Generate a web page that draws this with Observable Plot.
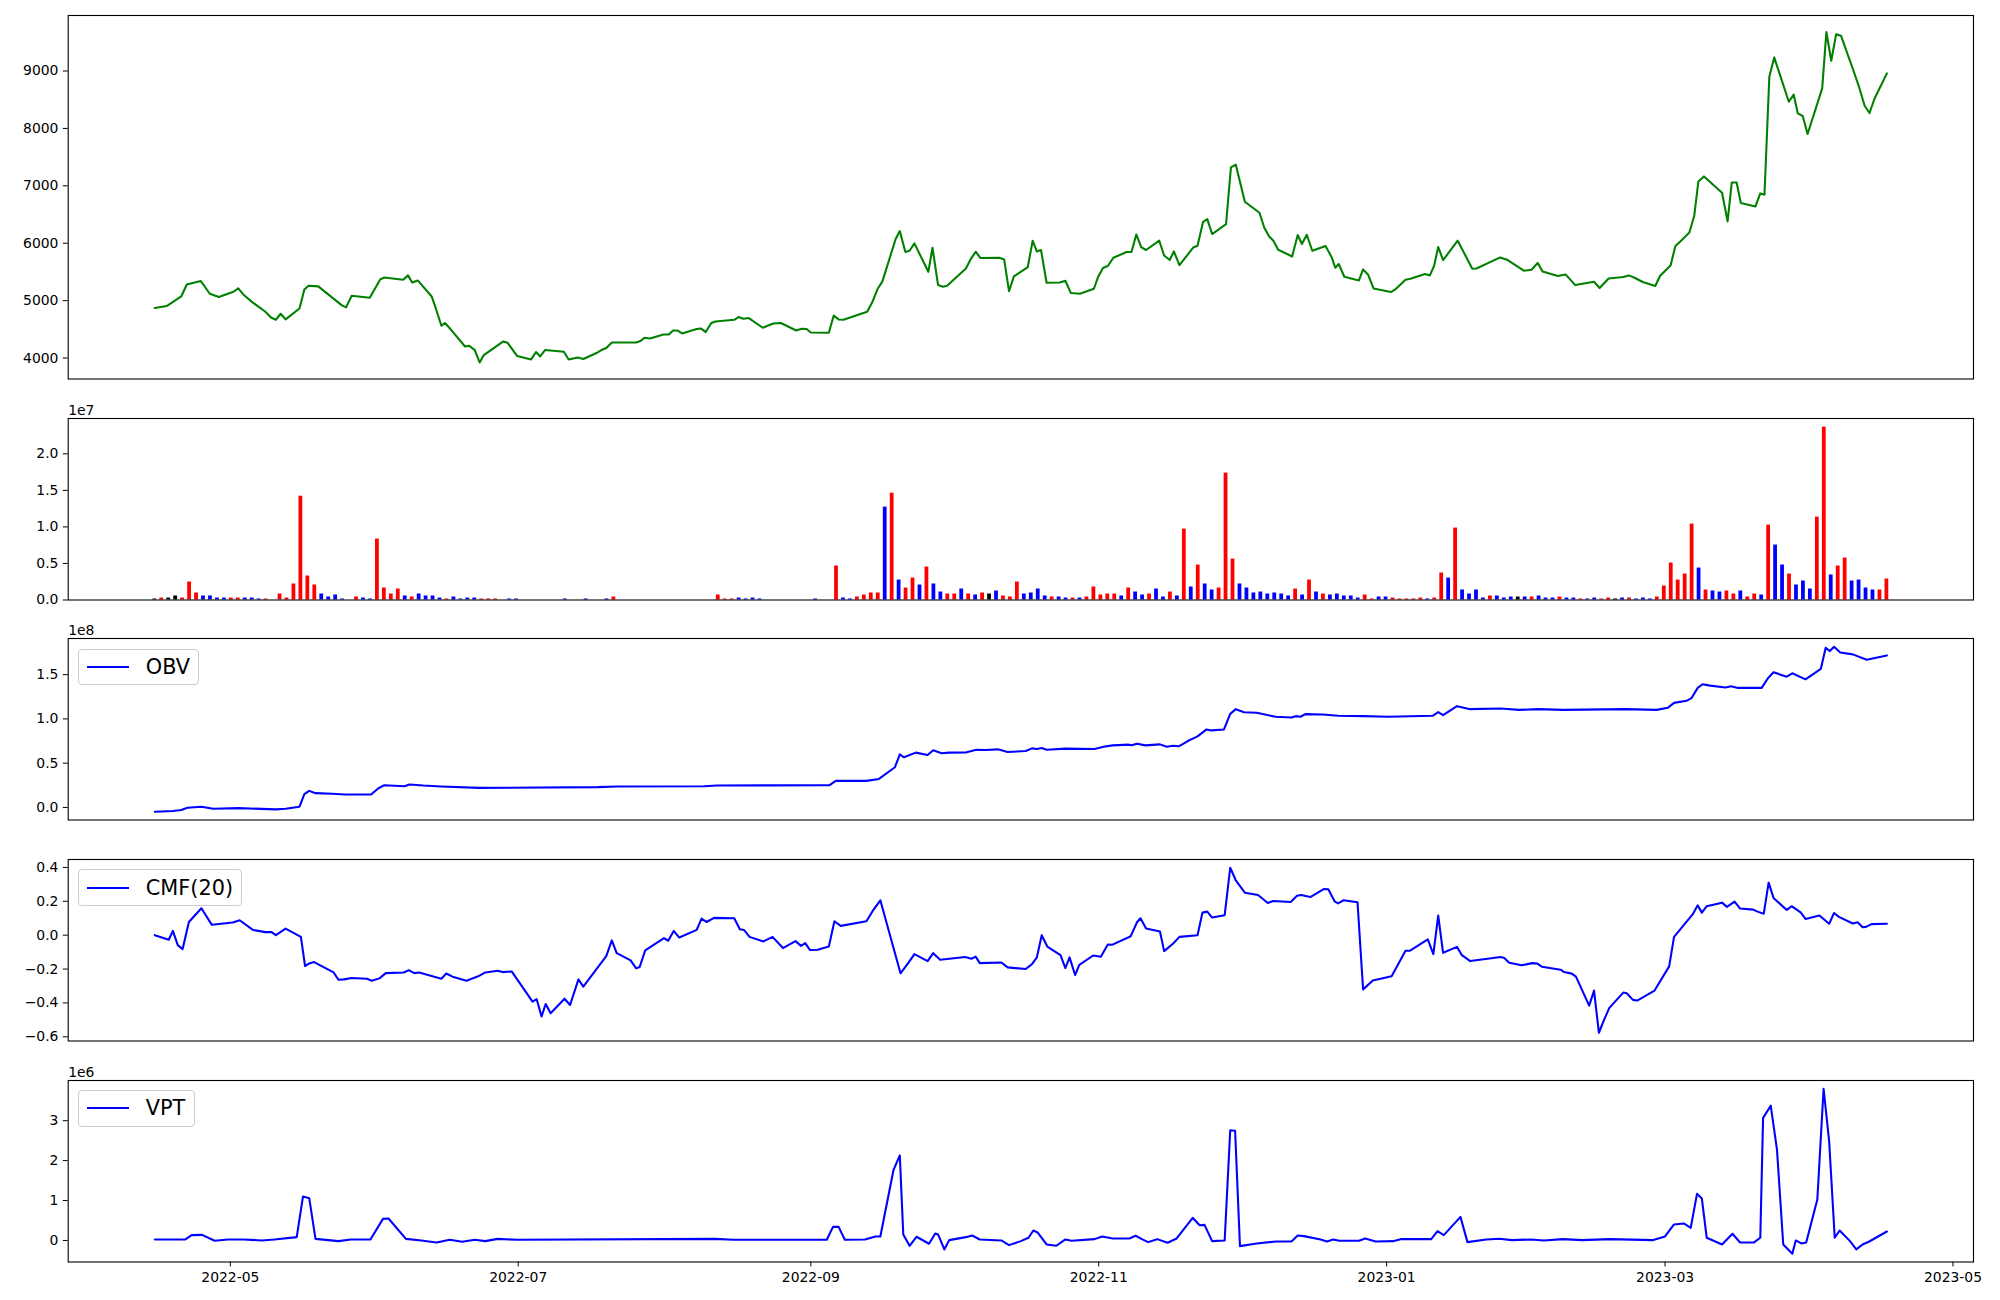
<!DOCTYPE html>
<html><head><meta charset="utf-8">
<script src="https://cdn.jsdelivr.net/npm/d3@7"></script>
<script src="https://cdn.jsdelivr.net/npm/@observablehq/plot@0.6"></script>
<style>
body{margin:0;background:#fff}
#chart{position:relative;width:2000px;height:1300px;background:#fff;font-family:"DejaVu Sans",sans-serif;overflow:hidden}
.legend{position:absolute;box-sizing:border-box;height:36.5px;border:1.3px solid #cccccc;border-radius:4px;background:rgba(255,255,255,0.8);display:flex;align-items:center;padding:0 8.3px;font-size:20.83px;color:#000;white-space:nowrap}
.legend .h{display:inline-block;width:41.7px;height:0;border-top:2.08px solid #0000ff;margin-right:16.7px}
</style>
</head><body><div id="chart"></div>
<script>
// ---- sample calendar (250 evenly spaced samples) ----
const START_DATE = "2022-04-15";
const END_DATE = "2023-04-17";
const N_SAMPLES = 250;

// ---- x tick labels ----
const xTickLabels = ["2022-05","2022-07","2022-09","2022-11","2023-01","2023-03","2023-05"];

// ---- price (position in sample steps, value) ----
const priceT = [0,1.7,3.8,4.6,6.6,7.1,7.9,9.2,11.3,12.0,12.8,14.0,15.9,16.7,17.4,18.1,18.8,20.8,21.5,22.1,23.5,26.9,27.5,28.3,30.9,32.4,33.0,35.7,36.4,37.0,37.8,39.8,40.4,41.2,41.7,42.5,44.6,45.2,46.0,46.7,47.3,50.1,50.7,52.1,54.1,54.8,55.4,56.1,58.8,59.5,60.8,61.6,63.5,64.3,64.9,65.7,69.2,69.8,70.4,71.2,73.1,73.9,74.5,75.1,75.8,77.9,78.5,79.2,80.0,80.6,83.3,83.9,84.6,85.4,87.4,88.9,90.0,92.2,93.0,93.7,94.3,96.9,97.6,98.3,99.0,102.4,103.1,103.9,104.6,106.5,107.1,107.9,108.5,109.2,111.2,111.8,112.6,113.3,113.9,116.6,117.3,118.0,118.7,121.4,122.1,122.8,123.5,125.5,126.2,126.8,127.4,128.2,130.1,130.9,131.7,133.0,135.0,135.6,136.3,137.0,137.8,139.7,140.4,141.1,141.8,142.5,144.4,145.1,145.9,146.5,147.3,149.3,149.9,150.7,151.3,152.0,154.0,154.7,155.4,156.7,158.8,159.5,160.2,160.8,161.5,163.5,164.3,164.9,165.6,166.4,168.3,169.2,169.7,170.2,171.0,173.1,173.7,174.4,175.2,177.7,178.4,179.8,180.5,182.6,183.3,183.9,184.5,185.2,187.3,189.4,190.0,193.4,194.5,196.8,197.9,198.8,199.5,201.7,202.8,204.2,206.9,207.7,209.0,211.1,211.9,212.8,213.9,215.7,216.4,217.9,218.6,219.3,220.6,221.3,221.9,222.7,225.3,226.1,226.7,227.4,228.0,230.1,230.8,231.4,232.1,232.8,234.9,235.6,236.2,236.9,237.6,239.7,240.3,241.0,241.7,242.4,244.3,245.0,245.8,246.5,247.2,249];
const priceV = [4871,4906,5073,5282,5341,5260,5120,5063,5155,5213,5097,4975,4806,4707,4667,4772,4673,4864,5195,5260,5248,4917,4882,5085,5050,5370,5404,5364,5440,5317,5352,5073,4864,4563,4610,4505,4202,4214,4139,3923,4052,4289,4267,4035,3976,4105,4028,4139,4110,3976,4010,3983,4087,4145,4174,4272,4272,4296,4354,4342,4411,4411,4481,4481,4429,4505,4516,4453,4610,4638,4667,4714,4685,4697,4528,4603,4610,4481,4510,4505,4446,4440,4742,4673,4667,4807,4963,5202,5335,6073,6212,5847,5869,5997,5503,5921,5271,5242,5260,5561,5724,5852,5742,5747,5718,5167,5422,5585,6044,5857,5882,5312,5317,5347,5132,5120,5207,5411,5568,5603,5747,5847,5847,6153,5934,5882,6044,5787,5707,5857,5620,5927,5956,6374,6421,6160,6334,7321,7368,6723,6531,6270,6118,6044,5887,5770,6143,5986,6148,5869,5951,5753,5573,5638,5416,5352,5544,5457,5213,5150,5202,5364,5382,5463,5440,5603,5934,5707,6044,5556,5561,5753,5707,5521,5538,5655,5509,5429,5457,5271,5329,5220,5387,5411,5440,5394,5324,5254,5434,5614,5951,6031,6188,6474,7077,7164,6880,6380,7059,7059,6700,6641,6868,6845,8901,9237,8465,8587,8261,8216,7902,8697,9679,9179,9638,9615,8970,8721,8395,8268,8512,8958];

// ---- volume per sample (x 1e7) and bar colour code (r up, b down, k flat) ----
const volume = [
0.014,0.027,0.027,0.055,0.027,0.246,0.096,0.055,0.055,0.027,
0.027,0.027,0.027,0.027,0.027,0.014,0.014,0,0.082,0.027,
0.219,1.42,0.328,0.205,0.082,0.041,0.068,0.014,0,0.041,
0.027,0.014,0.834,0.164,0.082,0.150,0.055,0.041,0.082,0.055,
0.055,0.027,0.014,0.041,0.014,0.027,0.027,0.014,0.014,0.014,
0,0.014,0.014,0,0,0,0,0,0,0.014,
0,0,0.014,0,0,0.014,0.041,0,0,0,
0,0,0,0,0,0,0,0,0,0,
0,0.068,0.014,0.014,0.027,0.014,0.027,0.014,0,0,
0,0,0,0,0,0.014,0,0,0.465,0.027,
0.014,0.041,0.068,0.096,0.096,1.271,1.462,0.273,0.164,0.300,
0.205,0.451,0.219,0.109,0.082,0.082,0.150,0.082,0.068,0.096,
0.082,0.123,0.055,0.041,0.246,0.082,0.096,0.150,0.055,0.041,
0.041,0.027,0.027,0.027,0.041,0.178,0.068,0.082,0.082,0.055,
0.164,0.109,0.068,0.082,0.150,0.041,0.109,0.055,0.970,0.178,
0.478,0.219,0.137,0.164,1.736,0.560,0.219,0.164,0.096,0.109,
0.082,0.096,0.082,0.055,0.150,0.068,0.273,0.109,0.082,0.068,
0.082,0.055,0.055,0.027,0.068,0.014,0.041,0.041,0.027,0.014,
0.014,0.014,0.027,0.014,0.027,0.369,0.300,0.984,0.137,0.082,
0.137,0.027,0.055,0.055,0.027,0.041,0.041,0.041,0.041,0.055,
0.027,0.027,0.041,0.027,0.027,0.014,0.014,0.027,0.014,0.027,
0.014,0.027,0.027,0.014,0.027,0.014,0.041,0.191,0.506,0.273,
0.355,1.039,0.437,0.137,0.123,0.109,0.123,0.082,0.123,0.041,
0.082,0.068,1.025,0.752,0.478,0.355,0.205,0.260,0.150,1.134,
2.365,0.342,0.465,0.574,0.260,0.273,0.164,0.137,0.137,0.287];
const volColor = ("krkkrrrbbb"+"brrbbbrbrr"+"rrrrbbbbrr"+"bbrrrrbrbb"+"bbrbbbbrrr"+
  "bbbbbbbbbb"+"bbbbbbrbbb"+"bbbbbbbbbb"+"brrrbbbbbb"+"bbbbbbbbrb"+
  "brrrrbrbrr"+"brbbrrbrbr"+"kbrrrbbbbr"+"bbrbrrrrrb"+"rbbrbbrbrb"+
  "rbbrrrbbbb"+"bbbbrbrbrb"+"bbbbrrbbrr"+"rrrbrrbrbb"+"bbrbbbkbrb"+
  "bbrbbrbbrr"+"kbrbbbrrrr"+"rrbrbbrrbr"+"rbrbbrbbbr"+"rbrrbbbbrr").split("");

// ---- OBV (x 1e8) ----
const obvT = [0,2.6,3.8,4.7,6.7,8.4,12.0,17.4,18.8,20.8,21.5,22.2,23.1,25.5,27.3,31.1,32.1,33.0,35.9,36.6,38.6,41.2,46.6,63.7,66.4,79.0,80.8,97.0,97.9,102.3,104.1,106.4,107.1,107.7,109.4,111.1,111.9,113.1,114.2,116.7,118.1,119.4,121.2,122.6,125.2,126.1,126.8,127.5,128.2,130.9,135.1,136.4,137.7,140.0,140.4,141.2,142.4,144.5,145.5,146.4,147.2,148.5,149.9,151.2,151.9,153.7,154.6,155.4,156.6,158.4,161.1,163.4,164.0,164.7,165.4,167.9,170.1,173.7,177.3,183.7,184.5,185.2,187.2,189.1,193.5,196.1,198.8,202.5,211.4,215.9,217.5,218.4,220.2,220.9,221.8,222.5,223.6,225.8,226.6,227.6,231.0,231.9,232.7,234.6,235.4,237.3,239.5,240.2,240.8,241.4,242.3,244.1,246.1,249];
const obvV = [-0.049,-0.041,-0.03,-0.004,0.008,-0.015,-0.008,-0.022,-0.015,0.008,0.15,0.187,0.161,0.154,0.146,0.146,0.214,0.251,0.24,0.259,0.247,0.236,0.221,0.229,0.236,0.24,0.247,0.251,0.30,0.30,0.322,0.454,0.60,0.566,0.619,0.592,0.645,0.611,0.619,0.622,0.652,0.649,0.656,0.626,0.637,0.667,0.66,0.671,0.652,0.664,0.66,0.686,0.701,0.709,0.701,0.72,0.701,0.712,0.686,0.697,0.69,0.75,0.802,0.881,0.87,0.881,1.057,1.11,1.076,1.069,1.024,1.016,1.031,1.024,1.054,1.05,1.035,1.031,1.024,1.035,1.076,1.042,1.144,1.11,1.117,1.102,1.11,1.102,1.11,1.102,1.125,1.181,1.204,1.234,1.35,1.391,1.376,1.354,1.369,1.35,1.35,1.459,1.526,1.477,1.515,1.447,1.564,1.804,1.766,1.815,1.751,1.729,1.669,1.717];

// ---- CMF(20) ----
const cmfT = [0,2.0,2.6,3.3,4.0,4.9,6.7,8.2,11.2,12.2,14.1,15.9,16.8,17.4,18.8,21.0,21.6,22.2,22.9,25.7,26.4,27.2,28.3,30.5,31.2,32.3,33.2,35.8,36.5,37.3,38.0,41.2,41.9,42.8,44.8,46.5,47.5,49.3,50.0,51.3,54.3,54.9,55.6,56.2,56.9,58.9,59.7,60.9,61.6,64.9,65.7,66.4,68.4,69.2,69.7,70.5,73.2,73.8,74.6,75.4,77.9,78.6,79.3,80.4,83.3,84.1,84.7,85.5,87.5,88.8,90.3,92.1,92.9,93.5,94.2,95.3,96.9,97.7,98.6,102.3,103.2,104.3,107.2,108.3,109.2,111.1,111.9,112.9,116.5,117.4,118.0,118.6,121.7,122.6,125.2,126.1,126.8,127.5,128.3,130.2,130.9,131.5,132.3,132.9,134.9,136.0,137.0,137.6,140.3,141.2,141.7,142.5,144.5,145.1,146.4,147.3,149.9,150.6,151.3,152.0,153.8,154.6,155.4,156.7,158.6,160.0,160.8,163.3,164.2,164.8,166.1,168.1,168.7,169.6,170.1,170.9,172.9,173.7,175.1,177.8,179.8,180.4,183.0,183.8,184.5,185.2,187.2,187.9,189.1,193.5,194.0,194.7,196.5,198.0,198.7,199.4,202.1,202.6,203.7,204.3,206.2,206.9,207.6,208.4,209.1,211.1,211.6,212.5,213.1,215.6,217.7,218.4,221.1,221.8,222.4,223.1,225.3,226.0,227.1,227.9,229.8,230.4,231.3,232.0,232.7,234.6,235.3,236.6,237.3,239.3,240.7,241.4,242.1,244.1,244.8,245.5,246.0,246.8,249];
const cmfV = [0.0,-0.027,0.025,-0.059,-0.082,0.078,0.159,0.061,0.075,0.088,0.031,0.018,0.018,0,0.039,-0.010,-0.182,-0.167,-0.159,-0.220,-0.263,-0.261,-0.253,-0.257,-0.269,-0.255,-0.224,-0.220,-0.206,-0.224,-0.220,-0.257,-0.226,-0.245,-0.269,-0.243,-0.220,-0.210,-0.218,-0.214,-0.392,-0.378,-0.480,-0.406,-0.461,-0.375,-0.412,-0.261,-0.304,-0.124,-0.031,-0.106,-0.149,-0.196,-0.188,-0.090,-0.018,-0.033,0.025,-0.014,0.031,0.098,0.078,0.102,0.100,0.035,0.031,-0.010,-0.037,-0.010,-0.076,-0.035,-0.063,-0.047,-0.088,-0.086,-0.067,0.082,0.055,0.082,0.143,0.206,-0.225,-0.165,-0.112,-0.153,-0.106,-0.145,-0.129,-0.139,-0.127,-0.165,-0.161,-0.190,-0.200,-0.171,-0.131,0.0,-0.067,-0.118,-0.194,-0.131,-0.235,-0.175,-0.120,-0.127,-0.055,-0.057,-0.006,0.076,0.100,0.039,0.022,-0.094,-0.049,-0.010,0.0,0.133,0.139,0.104,0.118,0.398,0.324,0.251,0.237,0.190,0.202,0.196,0.233,0.237,0.225,0.273,0.271,0.200,0.188,0.206,0.194,-0.320,-0.267,-0.243,-0.092,-0.092,-0.025,-0.112,0.116,-0.104,-0.069,-0.118,-0.153,-0.129,-0.135,-0.163,-0.178,-0.165,-0.167,-0.186,-0.204,-0.218,-0.227,-0.245,-0.416,-0.327,-0.576,-0.494,-0.429,-0.339,-0.343,-0.382,-0.386,-0.327,-0.184,-0.010,0.124,0.176,0.133,0.171,0.192,0.167,0.198,0.157,0.151,0.139,0.127,0.310,0.220,0.149,0.171,0.135,0.096,0.116,0.067,0.131,0.108,0.069,0.076,0.047,0.049,0.065,0.067];

// ---- VPT (x 1e6) ----
const vptT = [0,4.4,5.3,6.8,8.6,10.5,12.7,15.4,17.2,20.4,21.3,22.2,23.1,26.4,28.2,31.0,32.8,33.6,36.1,38.3,40.5,42.4,44.2,46.0,47.5,49.3,52.1,80.5,83.2,96.6,97.5,98.3,99.2,102.1,103.6,104.3,106.2,107.1,107.6,108.5,109.5,111.3,112.2,112.6,113.5,114.2,116.6,117.5,118.6,121.7,122.8,124.5,125.6,126.3,126.9,128.2,129.6,130.9,131.8,135.1,136.2,137.7,140.1,141.0,141.9,142.8,144.1,145.6,146.9,149.2,150.2,150.9,152.0,153.8,154.6,155.3,156.0,158.4,161.2,163.4,164.3,165.2,167.6,168.5,169.4,170.3,173.1,174.0,175.5,178.0,179.1,183.5,184.4,185.3,187.7,188.7,191.4,193.3,195.1,197.8,199.7,202.4,205.2,209.2,215.3,217.1,218.4,219.8,220.8,221.7,222.4,223.1,225.3,226.8,227.9,229.9,230.8,231.2,232.3,233.2,234.1,235.4,235.9,236.7,237.4,239.0,239.9,240.7,241.5,242.2,243.7,244.6,245.5,246.4,249];
const vptV = [0.025,0.025,0.133,0.14,-0.008,0.025,0.025,0,0.025,0.083,1.10,1.06,0.04,-0.017,0.025,0.025,0.54,0.55,0.04,0,-0.05,0.017,-0.033,0.017,-0.017,0.04,0.017,0.04,0.017,0.017,0.34,0.34,0.017,0.025,0.1,0.1,1.77,2.13,0.15,-0.133,0.092,-0.083,0.175,0.15,-0.225,0.008,0.083,0.125,0.025,0,-0.117,-0.017,0.067,0.25,0.2,-0.1,-0.133,0.025,-0.008,0.033,0.1,0.05,0.05,0.117,0.033,-0.042,0.033,-0.058,0.05,0.567,0.383,0.39,-0.017,0,2.76,2.75,-0.142,-0.075,-0.025,-0.025,0.125,0.108,0.025,-0.025,0.025,-0.008,-0.008,0.05,-0.025,-0.017,0.033,0.033,0.233,0.133,0.59,-0.042,0.025,0.042,0.008,0.025,0,0.033,0.008,0.033,0.008,0.1,0.4,0.425,0.317,1.167,1.05,0.067,-0.1,0.167,-0.05,-0.05,0.067,3.07,3.375,2.275,-0.1,-0.333,0,-0.075,-0.05,1.025,3.8,2.48,0.067,0.25,-0.017,-0.225,-0.1,-0.033,0.225];

// ---- y tick values and labels ----
const priceTicks = [4000,5000,6000,7000,8000,9000];
const priceTickLabels = ["4000","5000","6000","7000","8000","9000"];
const volTicks = [0,0.5,1,1.5,2];
const volTickLabels = ["0.0","0.5","1.0","1.5","2.0"];
const obvTicks = [0,0.5,1,1.5];
const obvTickLabels = ["0.0","0.5","1.0","1.5"];
const cmfTicks = [-0.6,-0.4,-0.2,0,0.2,0.4];
const cmfTickLabels = ["\u22120.6","\u22120.4","\u22120.2","0.0","0.2","0.4"];
const vptTicks = [0,1,2,3];
const vptTickLabels = ["0","1","2","3"];

// ---------------- drawing ----------------
const chart = document.getElementById("chart");
const t0 = Date.parse(START_DATE + "T00:00:00Z"), t1 = Date.parse(END_DATE + "T00:00:00Z");
const STEP = (t1 - t0) / (N_SAMPLES - 1);
const DAY = 864e5;
const at = t => new Date(t0 + t * STEP);
const span = t1 - t0;
const xDomain = [new Date(t0 - 0.05 * span), new Date(t1 + 0.05 * span)];
const xTicks = xTickLabels.map(s => new Date(s + "-01T00:00:00Z"));
const FL = 67.7, FR = 27;
const padExt = a => { const [lo, hi] = d3.extent(a); const r = hi - lo; return [lo - 0.05 * r, hi + 0.05 * r]; };
const series = (T, V) => T.map((t, i) => ({t, v: V[i]}));
const colorOf = {r: "#ff0000", b: "#0000ff", k: "#000000"};

function panel({top, bottom, yDomain, ticks, labels, marks, offset, xAxis, legend}) {
  const mTop = 26, mBottom = xAxis ? 40 : 6;
  const svg = Plot.plot({
    width: 2000, height: (bottom - top) + mTop + mBottom,
    marginLeft: FL, marginRight: FR, marginTop: mTop, marginBottom: mBottom,
    style: {fontFamily: "DejaVu Sans", fontSize: "13.9px", color: "black", background: "transparent", overflow: "visible"},
    x: xAxis
      ? {type: "utc", domain: xDomain, ticks: xTicks, tickFormat: d => xTickLabels[xTicks.findIndex(x => +x === +d)], tickSize: 4.9, tickPadding: 4.9, label: null}
      : {type: "utc", domain: xDomain, axis: null},
    y: {domain: yDomain, ticks, tickFormat: d => labels[ticks.indexOf(d)], tickSize: 4.9, tickPadding: 4.9, label: null},
    color: {type: "identity"},
    marks: [
      ...marks,
      offset ? Plot.text([offset], {frameAnchor: "top-left", text: d => d, textAnchor: "start", lineAnchor: "bottom", dy: -4, fontSize: 13.9}) : null,
      Plot.frame({stroke: "black", strokeWidth: 1.1})
    ]
  });
  svg.style.position = "absolute";
  svg.style.left = "0px";
  svg.style.top = (top - mTop) + "px";
  chart.appendChild(svg);
  if (legend) {
    const box = document.createElement("div");
    box.className = "legend";
    box.style.left = (FL + 10.4) + "px";
    box.style.top = (top + 10.4) + "px";
    box.innerHTML = '<span class="h"></span><span>' + legend + '</span>';
    chart.appendChild(box);
  }
}

// price
panel({top: 15, bottom: 378.5, yDomain: padExt(priceV), ticks: priceTicks, labels: priceTickLabels,
  marks: [Plot.line(series(priceT, priceV), {x: d => at(d.t), y: "v", stroke: "#008000", strokeWidth: 2.08})]});

// volume
const volRows = volume.map((v, i) => ({i, v, c: colorOf[volColor[i]]}));
panel({top: 417.5, bottom: 599, yDomain: [0, d3.max(volume) * 1.05], ticks: volTicks, labels: volTickLabels, offset: "1e7",
  marks: [Plot.rect(volRows, {x1: d => new Date(+at(d.i) - 0.4 * DAY), x2: d => new Date(+at(d.i) + 0.4 * DAY), y1: 0, y2: "v", fill: "c"})]});

// OBV
panel({top: 638.3, bottom: 819.8, yDomain: padExt(obvV), ticks: obvTicks, labels: obvTickLabels, offset: "1e8", legend: "OBV",
  marks: [Plot.line(series(obvT, obvV), {x: d => at(d.t), y: "v", stroke: "#0000ff", strokeWidth: 2.08})]});

// CMF
panel({top: 859, bottom: 1040.5, yDomain: padExt(cmfV), ticks: cmfTicks, labels: cmfTickLabels, legend: "CMF(20)",
  marks: [Plot.line(series(cmfT, cmfV), {x: d => at(d.t), y: "v", stroke: "#0000ff", strokeWidth: 2.08})]});

// VPT
panel({top: 1079.7, bottom: 1261.2, yDomain: padExt(vptV), ticks: vptTicks, labels: vptTickLabels, offset: "1e6", legend: "VPT", xAxis: true,
  marks: [Plot.line(series(vptT, vptV), {x: d => at(d.t), y: "v", stroke: "#0000ff", strokeWidth: 2.08})]});
</script>
</body></html>
